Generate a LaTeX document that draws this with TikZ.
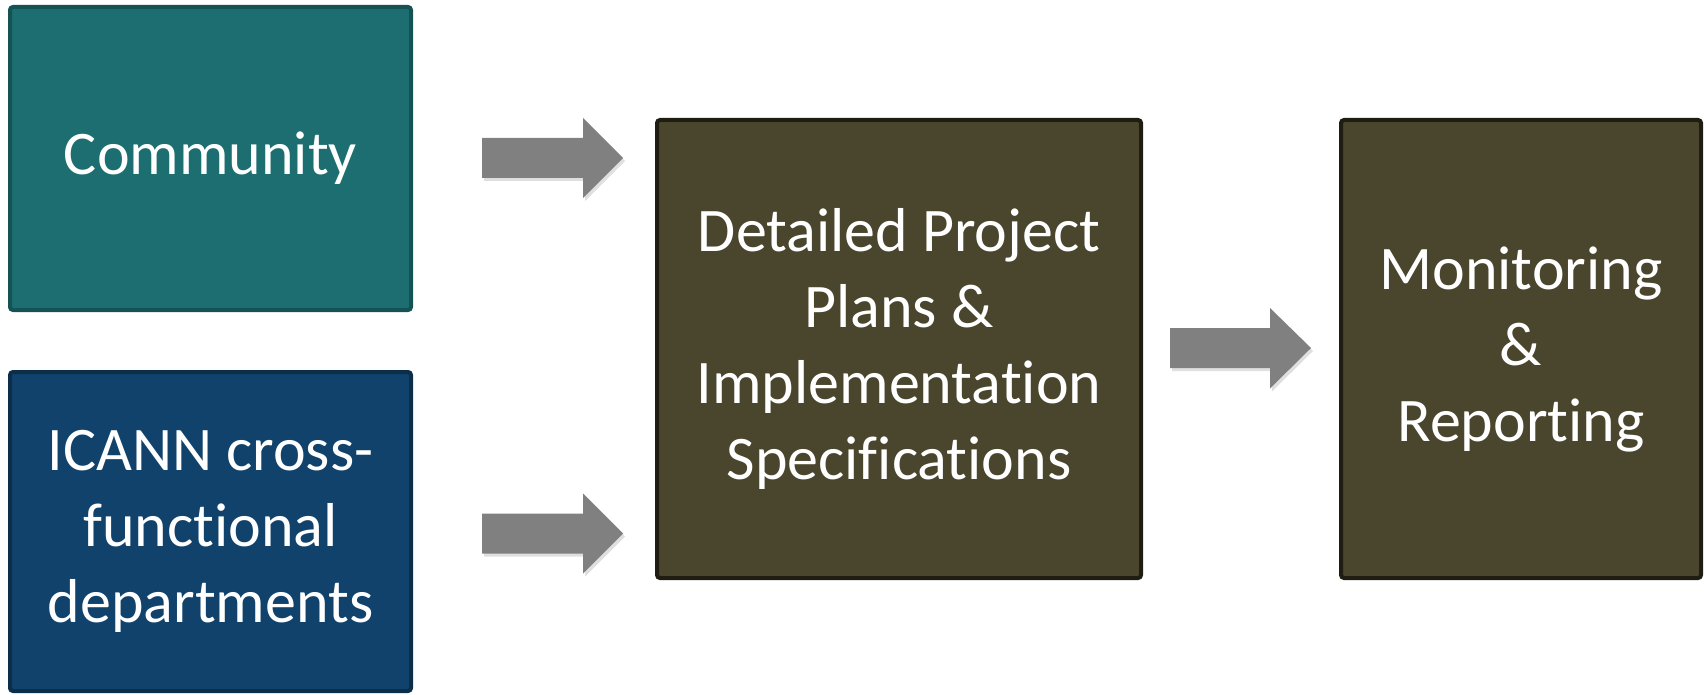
\documentclass[tikz,border=0pt]{standalone}
\usepackage{fontspec}
\setmainfont{Carlito}[RawFeature={-liga;-clig;-calt;-dlig}]
\usetikzlibrary{shadows,calc}
\newcommand{\ti}{t\kern0pt i}
\definecolor{tealfill}{HTML}{1D6E71}
\definecolor{tealline}{HTML}{155254}
\definecolor{navyfill}{HTML}{10426B}
\definecolor{navyline}{HTML}{0B2E4B}
\definecolor{olivefill}{HTML}{4A452D}
\definecolor{oliveline}{HTML}{1F1C12}
\definecolor{arrowgray}{HTML}{808080}
\tikzset{
  box/.style={rectangle, line width=4pt, rounded corners=3pt, text=white, align=center,
    inner sep=0pt, font=\fontsize{62}{76}\selectfont},
  tealbox/.style={box, draw=tealline, fill=tealfill},
  navybox/.style={box, draw=navyline, fill=navyfill},
  olivebox/.style={box, draw=oliveline, fill=olivefill},
  blockarrow/.style={fill=arrowgray, drop shadow={shadow xshift=2pt, shadow yshift=-3pt, opacity=0.25}},
}
\begin{document}
\begin{tikzpicture}[x=1pt,y=-1pt]
\useasboundingbox (0,0) rectangle (1704,695);
\node[tealbox, minimum width=401pt, minimum height=303pt] (community) at (210.5,158.5) {Community};
\node[navybox, minimum width=401pt, minimum height=319pt] (icann) at (210.5,531.5) {ICANN cross-\\func\ti onal\\departments};
\node[olivebox, minimum width=484pt, minimum height=458pt] (plans) at (899,349) {Detailed Project\\Plans \&\\Implementa\ti on\\Specifica\ti ons};
\node[olivebox, minimum width=360pt, minimum height=458pt] (monitor) at (1521,349) {Monitoring\\\&\\Repor\ti ng};
% block arrows
\coordinate (a1) at (482,158);
\coordinate (a2) at (482,533.5);
\coordinate (a3) at (1170,348);
\foreach \c in {a1,a2} {
  \fill[blockarrow] ($(\c)+(0,-20)$) -- ++(101,0) -- ++(0,-20) -- ($(\c)+(141,0)$) -- ($(\c)+(101,40)$) -- ++(0,-20) -- ($(\c)+(0,20)$) -- cycle;
}
\fill[blockarrow] ($(a3)+(0,-20)$) -- ++(100,0) -- ++(0,-20) -- ($(a3)+(141,0)$) -- ($(a3)+(100,40.5)$) -- ++(0,-20.5) -- ($(a3)+(0,20)$) -- cycle;
\end{tikzpicture}
\end{document}
